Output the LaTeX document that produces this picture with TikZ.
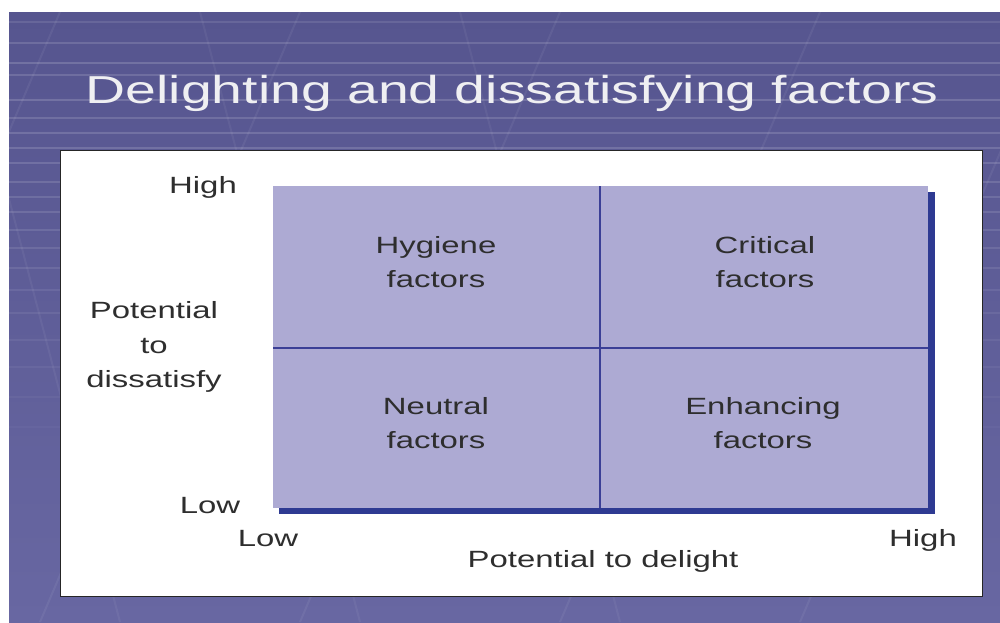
\documentclass[tikz,border=0pt]{standalone}
\usepackage{fontspec}
\setmainfont{Liberation Sans}[FakeStretch=1.4]
\newfontfamily\titlefont{Liberation Sans}[FakeStretch=1.42]
\definecolor{bgtop}{HTML}{56558F}
\definecolor{bgbot}{HTML}{6867A2}
\definecolor{boxfill}{HTML}{ADAAD3}
\definecolor{shadowblue}{HTML}{2E3A92}
\definecolor{divider}{HTML}{3B3F96}
\definecolor{labelgray}{HTML}{2E2E2E}
\definecolor{titlewhite}{HTML}{EFEFF2}
\begin{document}
\begin{tikzpicture}[x=1pt,y=-1pt,
  lbl/.style={font=\fontsize{23.5}{34.5}\selectfont, text=labelgray, inner sep=0pt, align=center},
  gridline/.style={white, line width=1.2pt},
  dline/.style={divider, line width=1.3pt}]
\useasboundingbox (0,0) rectangle (1000,622);
\fill[white] (0,0) rectangle (1000,622);
% slide background
\shade[top color=bgtop, bottom color=bgbot] (9,12) rectangle (1000,622);
\begin{scope}
\clip (9,12) rectangle (1000,622);
\foreach \yy/\op in {22/0.10,43/0.14,63/0.16,75/0.14,100/0.16,118/0.14,133/0.15,148/0.15,163/0.14,182/0.13,197/0.12,212/0.12,230/0.11,248/0.10,268/0.09,290/0.08,313/0.07,340/0.06,367/0.05,397/0.04,427/0.03}
  \draw[gridline, opacity=\op] (9,\yy) -- (1000,\yy);
\foreach \xx in {60,300,560,820,1060}
  \draw[white, opacity=0.06, line width=2pt] (\xx,12) -- (\xx-260,622);
\foreach \xx in {-40,200,460}
  \draw[white, opacity=0.05, line width=2pt] (\xx,12) -- (\xx+160,622);
\end{scope}
% title
\node[font=\titlefont\fontsize{39}{44}\selectfont, text=titlewhite, anchor=base, inner sep=0pt] (title) at (512,103) {Delighting and dissatisfying factors};
% white panel
\draw[draw=black!85, line width=1pt, fill=white] (60,150) rectangle (982,596);
% matrix
\fill[shadowblue] (279,192) rectangle (935,514);
\fill[boxfill] (273,186) rectangle (928,508);
\draw[dline] (600,186) -- (600,508);
\draw[dline] (273,348) -- (928,348);
% quadrant labels
\node[lbl] (hyg) at (436,262) {Hygiene\\factors};
\node[lbl] (crit) at (765,262) {Critical\\factors};
\node[lbl] (neut) at (436,423) {Neutral\\factors};
\node[lbl] (enh) at (763,423) {Enhancing\\factors};
% axis labels
\node[lbl, anchor=base] (yhigh) at (203,193) {High};
\node[lbl] (ylab) at (154,347) {Potential\\to\\dissatisfy};
\node[lbl, anchor=base] (ylow) at (210,513) {Low};
\node[lbl, anchor=base] (xlow) at (268,546) {Low};
\node[lbl, anchor=base] (xhigh) at (923,546) {High};
\node[lbl, anchor=base] (xlab) at (603,567) {Potential to delight};
\end{tikzpicture}
\end{document}
